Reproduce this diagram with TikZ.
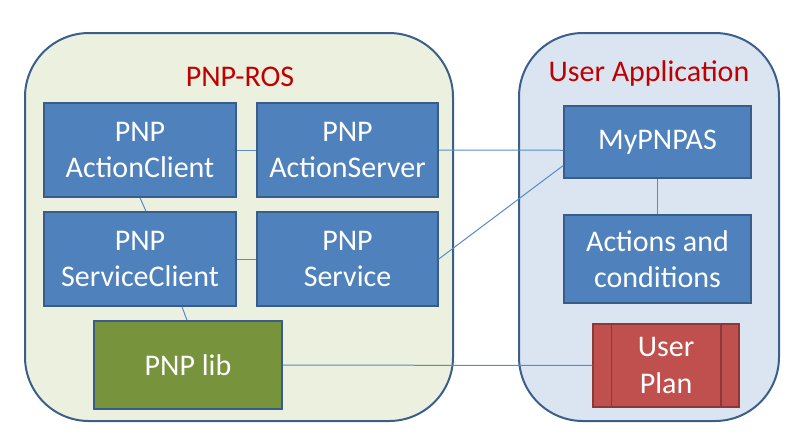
\documentclass[tikz,border=0pt]{standalone}
\usepackage{fontspec}
\setmainfont{Carlito}
\definecolor{boxblue}{HTML}{4F81BD}
\definecolor{boxline}{HTML}{385D8A}
\definecolor{libgreen}{HTML}{77933C}
\definecolor{planred}{HTML}{C0504D}
\definecolor{planline}{HTML}{8C3836}
\definecolor{rosbg}{HTML}{EBF1DE}
\definecolor{appbg}{HTML}{DBE5F1}
\definecolor{grpline}{HTML}{3A5F8B}
\definecolor{titlered}{HTML}{C00000}
\definecolor{linkblue}{HTML}{5B8AC6}
\begin{document}
\begin{tikzpicture}[x=0.5pt,y=-0.5pt,
    font=\fontsize{15}{18.3}\selectfont,
    group/.style={shape=rectangle,draw=grpline,line width=1pt,rounded corners=32pt},
    title/.style={text=titlered},
    comp/.style={shape=rectangle,draw=boxline,fill=boxblue,line width=0.75pt,text=white,align=center},
    lib/.style={comp,fill=libgreen},
    plan/.style={comp,fill=planred,draw=planline},
    link/.style={draw=linkblue,line width=0.5pt}]
    \useasboundingbox (0,0) rectangle (808,436);
    % containers
    \node[group,fill=rosbg,minimum width=214pt,minimum height=194pt] (ros) at (239,227) {};
    \node[group,fill=appbg,minimum width=130pt,minimum height=194pt] (app) at (649,227) {};
    \node[title] (rostitle) at (240,77) {PNP-ROS};
    \node[title] (apptitle) at (649,73) {User Application};
    % PNP-ROS parts
    \node[comp,minimum width=96pt,minimum height=47pt] (ac) at (140,150) {PNP\\ActionClient};
    \node[comp,minimum width=90.5pt,minimum height=47pt] (as) at (347.5,150) {PNP\\ActionServer};
    \node[comp,minimum width=96pt,minimum height=47pt] (sc) at (140,259) {PNP\\ServiceClient};
    \node[comp,minimum width=90.5pt,minimum height=47pt] (srv) at (347.5,259) {PNP\\Service};
    \node[lib,minimum width=94pt,minimum height=44pt] (pnplib) at (188,365) {PNP lib};
    % user application parts
    \node[comp,minimum width=93.5pt,minimum height=36pt] (mypnpas) at (657.5,142) {MyPNPAS};
    \node[comp,minimum width=93.5pt,minimum height=44pt] (actcond) at (657.5,259) {Actions and\\conditions};
    \node[plan,minimum width=73pt,minimum height=41.5pt] (userplan) at (666,365.5) {User\\Plan};
    \draw[planline,line width=0.75pt] ([xshift=9.5pt]userplan.north west) -- ([xshift=9.5pt]userplan.south west);
    \draw[planline,line width=0.75pt] ([xshift=-9.5pt]userplan.north east) -- ([xshift=-9.5pt]userplan.south east);
    % links
    \path [link](ac) edge (as);
    \path [link](sc) edge (srv);
    \path [link](ac.south) edge ([xshift=3pt]sc.north);
    \path [link]([xshift=21pt]sc.south) edge ([xshift=-0.5pt]pnplib.north);
    \path [link](as.east) edge (mypnpas.185);
    \path [link](srv.east) edge (mypnpas.194);
    \path [link](mypnpas) edge (actcond);
    \path [link](pnplib) edge (userplan);
\end{tikzpicture}
\end{document}
